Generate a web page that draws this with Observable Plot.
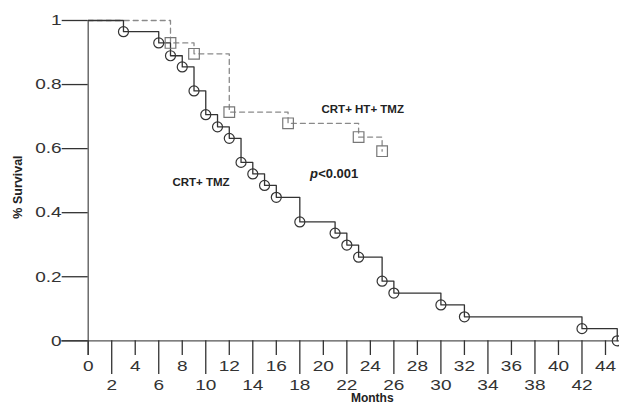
<!DOCTYPE html>
<html><head><meta charset="utf-8">
<script src="https://cdn.jsdelivr.net/npm/d3@7"></script>
<script src="https://cdn.jsdelivr.net/npm/@observablehq/plot@0.6"></script>
<style>body{margin:0;background:#fff;} svg{display:block;}</style>
</head><body><div id="chart"></div>
<script>
// CRT + TMZ (solid, circles)
const crtTmzMonths   = [0, 3, 6, 7, 8, 9, 10, 11, 12, 13, 14, 15, 16, 18, 21, 22, 23, 25, 26, 30, 32, 42, 45];
const crtTmzSurvival = [1, 0.965, 0.93, 0.89, 0.855, 0.78, 0.706, 0.668, 0.632, 0.557, 0.521, 0.485, 0.448, 0.371, 0.336, 0.299, 0.261, 0.186, 0.149, 0.112, 0.075, 0.038, 0];
// CRT + HT + TMZ (dashed, squares)
const crtHtTmzMonths   = [0, 7, 9, 12, 17, 23, 25];
const crtHtTmzSurvival = [1, 0.93, 0.896, 0.714, 0.679, 0.636, 0.592];
// ticks
const yTicks = [0, 0.2, 0.4, 0.6, 0.8, 1];
const xTicksUpper = [0, 4, 8, 12, 16, 20, 24, 28, 32, 36, 40, 44];
const xTicksLower = [2, 6, 10, 14, 18, 22, 26, 30, 34, 38, 42];
// labels
const seriesLabels = ["CRT+ TMZ", "CRT+ HT+ TMZ"];
const pLabelP = "p";
const pLabelRest = "<0.001";
const xTitle = "Months";
const yTitle = "% Survival";

const s1 = crtTmzMonths.map((m, i) => ({month: m, surv: crtTmzSurvival[i]}));
const s2 = crtHtTmzMonths.map((m, i) => ({month: m, surv: crtHtTmzSurvival[i]}));

const FONT = "'Liberation Sans', Arial, Helvetica, sans-serif";

const plot = Plot.plot({
  width: 619,
  height: 405,
  marginLeft: 87.7,
  marginRight: 2.25,
  marginTop: 20,
  marginBottom: 64.7,
  style: {fontFamily: FONT, background: "#fff", overflow: "hidden"},
  x: {domain: [0, 45]},
  y: {domain: [0, 1]},
  marks: [
    Plot.ruleY([0], {x1: -2.25, x2: 47, stroke: "#555", strokeWidth: 1.3}),
    Plot.ruleX([0], {y1: -0.046, y2: 1, stroke: "#555", strokeWidth: 1.3}),
    Plot.axisY(yTicks, {anchor: "left", tickSize: 26, tickPadding: 0.5, tickFormat: d => String(d),
      fontSize: 15, color: "#333", label: null, strokeWidth: 1.3}),
    Plot.axisX(xTicksUpper, {anchor: "bottom", tickSize: 14.7, tickPadding: 5, tickFormat: d => String(d),
      fontSize: 15, color: "#333", label: null, strokeWidth: 1.3}),
    Plot.axisX(xTicksLower, {anchor: "bottom", tickSize: 33.7, tickPadding: 5.3, tickFormat: d => String(d),
      fontSize: 15, color: "#333", label: null, strokeWidth: 1.3}),
    Plot.line(s2, {x: "month", y: "surv", curve: "step-after", stroke: "#8a8a8a", strokeWidth: 1.3, strokeDasharray: "5,4"}),
    Plot.line(s1, {x: "month", y: "surv", curve: "step-after", stroke: "#333", strokeWidth: 1.3}),
    Plot.dot(s1.slice(1), {x: "month", y: "surv", r: 5, stroke: "#333", strokeWidth: 1.2, fill: "none"}),
    Plot.dot(s2.slice(1), {x: "month", y: "surv", symbol: "square", r: 6, stroke: "#777", strokeWidth: 1.2, fill: "none"}),
    Plot.text([seriesLabels[0]], {x: 9.6, y: 0.495, text: d => d, fontSize: 11.5, fontWeight: "bold", fill: "#222", textAnchor: "middle"}),
    Plot.text([seriesLabels[1]], {x: 23.35, y: 0.722, text: d => d, fontSize: 11.5, fontWeight: "bold", fill: "#222", textAnchor: "middle"}),
    Plot.text([pLabelP], {x: 18.86, y: 0.522, text: d => d, fontSize: 13, fontWeight: "bold", fontStyle: "italic", fill: "#222", textAnchor: "start"}),
    Plot.text([pLabelRest], {x: 19.56, y: 0.522, text: d => d, fontSize: 13, fontWeight: "bold", fill: "#222", textAnchor: "start"}),
    Plot.text([xTitle], {x: 24.16, y: -0.164, text: d => d, fontSize: 12, fontWeight: "bold", fill: "#222", textAnchor: "middle", lineAnchor: "top"}),
    Plot.text([yTitle], {x: -6.0, y: 0.48, text: d => d, fontSize: 12.5, fontWeight: "bold", fill: "#222", textAnchor: "middle", rotate: -90})
  ]
});
document.getElementById("chart").append(plot);

// horizontally widen tick labels to match the reference's wide numerals
plot.querySelectorAll('g[aria-label$="tick label"] text').forEach(t => {
  const tr = t.getAttribute("transform");
  if (tr) t.setAttribute("transform", tr + " scale(1.27,1)");
  else {
    const x = t.getAttribute("x") || 0, y = t.getAttribute("y") || 0;
    t.removeAttribute("x"); t.removeAttribute("y");
    t.setAttribute("transform", `translate(${x},${y}) scale(1.27,1)`);
  }
});
</script>
</body></html>
